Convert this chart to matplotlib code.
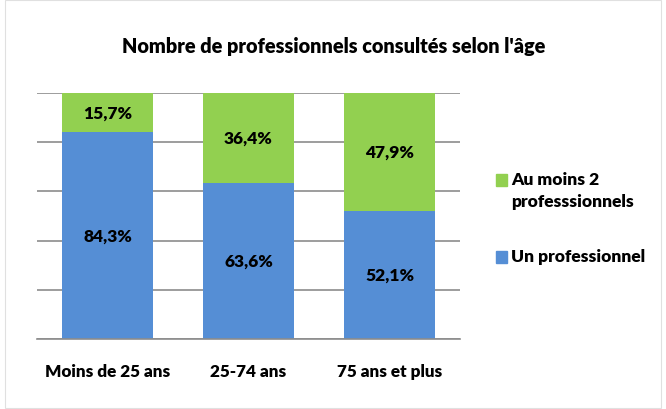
import matplotlib.pyplot as plt
import matplotlib.patches as mpatches
import numpy as np

categories = ["Moins de 25 ans", "25-74 ans", "75 ans et plus"]
un_pro = [84.3, 63.6, 52.1]
deux_pro = [15.7, 36.4, 47.9]
series_names = ["Un professionnel", "Au moins 2\nprofesssionnels"]

blue = "#558ED5"
green = "#92D050"

plt.rcParams['font.family'] = ['Lato', 'DejaVu Sans']
wt = 'heavy'

fig = plt.figure(figsize=(6.66, 4.10), dpi=100)
ax = fig.add_axes([37/666, 70/410, 423/666, 246/410])

x = np.arange(len(categories))
w = 0.64
ax.bar(x, un_pro, w, color=blue, zorder=2)
ax.bar(x, deux_pro, w, bottom=un_pro, color=green, zorder=2)

for i in range(len(categories)):
    ax.text(x[i], un_pro[i] / 2, ("%.1f%%" % un_pro[i]).replace('.', ','),
            ha='center', va='center', fontsize=12.5, fontweight=wt)
    ax.text(x[i], un_pro[i] + deux_pro[i] / 2, ("%.1f%%" % deux_pro[i]).replace('.', ','),
            ha='center', va='center', fontsize=12.5, fontweight=wt)

ax.set_xlim(-0.5, 2.5)
ax.set_ylim(0, 100)
ax.set_yticks(np.arange(0, 101, 20))
ax.set_yticklabels([])
ax.yaxis.grid(True, color='#8c8c8c', linewidth=1.2, zorder=0)
ax.tick_params(axis='y', length=0)
ax.tick_params(axis='x', length=0, pad=17)
ax.set_xticks(x)
ax.set_xticklabels(categories, fontsize=12.3, fontweight=wt)
for s in ['top', 'right', 'left']:
    ax.spines[s].set_visible(False)
ax.spines['bottom'].set_color('#8c8c8c')
ax.spines['bottom'].set_linewidth(1.2)

fig.text(334/666, 1 - 47/410, "Nombre de professionnels consultés selon l'âge",
         ha='center', va='center', fontsize=14.3, fontweight=wt)

# legend drawn by hand so the square sits on the first line
leg = [(series_names[1], green, 181), (series_names[0], blue, 258)]
for label, col, yc in leg:
    fig.patches.append(mpatches.Rectangle((496/666, 1 - (yc + 6)/410), 11/666, 12/410,
                                          transform=fig.transFigure, color=col))
    fig.text(511/666, 1 - (yc - 9)/410, label, ha='left', va='top',
             fontsize=12.5, fontweight=wt, linespacing=1.45)

fig.patches.append(mpatches.Rectangle((5/666, 0.002), 1 - 10/666, 0.996, transform=fig.transFigure,
                                      fill=False, edgecolor='#e0e0e0', linewidth=0.8))

fig.savefig("out.png", dpi=100)
